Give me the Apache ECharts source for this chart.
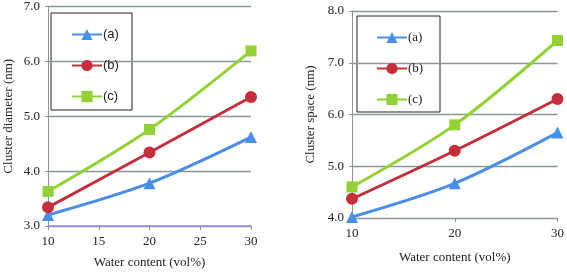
<!DOCTYPE html>
<html><head><meta charset="utf-8">
<script src="https://cdn.jsdelivr.net/npm/echarts@6/dist/echarts.min.js"></script>
<style>html,body{margin:0;padding:0;background:#fff}#c{width:567px;height:274px}</style>
</head><body><div id="c"></div>
<script>
const seriesNames = ['(a)', '(b)', '(c)'];
const waterContent = [10, 20, 30];
const diameterA = [3.20, 3.78, 4.62];
const diameterB = [3.34, 4.34, 5.35];
const diameterC = [3.63, 4.76, 6.19];
const spaceA = [4.02, 4.67, 5.65];
const spaceB = [4.37, 5.30, 6.30];
const spaceC = [4.60, 5.80, 7.43];
const leftTitle = 'Cluster diameter (nm)';
const rightTitle = 'Cluster space (nm)';
const xTitle = 'Water content (vol%)';

const colors = ['#4a8fe6', '#c3303c', '#93d236'];
const symbols = ['triangle', 'circle', 'rect'];
const sizes = [12, 12, 11];
const serif = 'Liberation Serif';

function pts(arr){ return waterContent.map((x,i)=>[x, arr[i]]); }

const chart = echarts.init(document.getElementById('c'));
const leftData = [diameterA, diameterB, diameterC];
const rightData = [spaceA, spaceB, spaceC];
const series = [];
leftData.forEach((d,i)=>series.push({
  name: seriesNames[i], type:'line', xAxisIndex:0, yAxisIndex:0, data: pts(d),
  smooth: 0.3, symbol: symbols[i], symbolSize: sizes[i],
  lineStyle:{color:colors[i], width:3}, itemStyle:{color:colors[i]}
}));
rightData.forEach((d,i)=>series.push({
  name: 'r' + seriesNames[i], type:'line', xAxisIndex:1, yAxisIndex:1, data: pts(d),
  smooth: 0.3, symbol: symbols[i], symbolSize: sizes[i],
  lineStyle:{color:colors[i], width:3}, itemStyle:{color:colors[i]}
}));

const yAxisCommon = {
  type:'value', interval:1,
  axisLine:{show:true, lineStyle:{color:'#8c9696', width:1}},
  axisTick:{show:true, inside:false, length:3, lineStyle:{color:'#8c9696'}},
  splitLine:{show:true, lineStyle:{color:'#8c9696', width:1.3}},
  axisLabel:{fontFamily:serif, fontSize:13, color:'#222', margin:8, formatter:v=>v.toFixed(1)},
  nameLocation:'middle', nameTextStyle:{fontFamily:serif, fontSize:13, color:'#222'}
};

chart.setOption({
  animation:false,
  grid:[
    {left:48, right:316, top:6, bottom:45},
    {left:352, right:7, top:11, bottom:56}
  ],
  xAxis:[
    {type:'value', gridIndex:0, min:10, max:30, interval:5,
     axisLine:{lineStyle:{color:'#9a8ee0', width:1.5}},
     axisTick:{show:true, length:4, lineStyle:{color:'#8c9696'}},
     splitLine:{show:false},
     axisLabel:{fontFamily:serif, fontSize:13, color:'#222', margin:9},
     name:xTitle, nameLocation:'middle', nameGap:30,
     nameTextStyle:{fontFamily:serif, fontSize:13, color:'#222'}},
    {type:'value', gridIndex:1, min:10, max:30, interval:10,
     axisLine:{lineStyle:{color:'#8c9696', width:1}},
     axisTick:{show:true, length:4, lineStyle:{color:'#8c9696'}},
     splitLine:{show:false},
     axisLabel:{fontFamily:serif, fontSize:13, color:'#222', margin:9},
     name:xTitle, nameLocation:'middle', nameGap:33,
     nameTextStyle:{fontFamily:serif, fontSize:13, color:'#222'}}
  ],
  yAxis:[
    Object.assign({}, yAxisCommon, {gridIndex:0, min:3, max:7, name:leftTitle, nameGap:33}),
    Object.assign({}, yAxisCommon, {gridIndex:1, min:4, max:8, name:rightTitle, nameGap:35})
  ],
  legend:[
    {data:seriesNames, orient:'vertical', left:66, top:23, itemWidth:30, itemHeight:14, itemGap:18,
     textStyle:{fontFamily:'Liberation Sans', fontSize:13, color:'#222', padding:[0,0,0,-4]}},
    {data:seriesNames.map(n=>'r'+n), orient:'vertical', left:371, top:26, itemWidth:30, itemHeight:14, itemGap:18,
     formatter:n=>n.slice(1),
     textStyle:{fontFamily:serif, fontSize:13, color:'#222', padding:[0,0,0,-4]}}
  ],
  graphic:[
    {type:'rect', shape:{x:51, y:13, width:81, height:97}, style:{fill:'#fff', stroke:'#222', lineWidth:1}, z:0},
    {type:'rect', shape:{x:357, y:16, width:83, height:96}, style:{fill:'#fff', stroke:'#222', lineWidth:1}, z:0}
  ],
  series: series
});
</script></body></html>
